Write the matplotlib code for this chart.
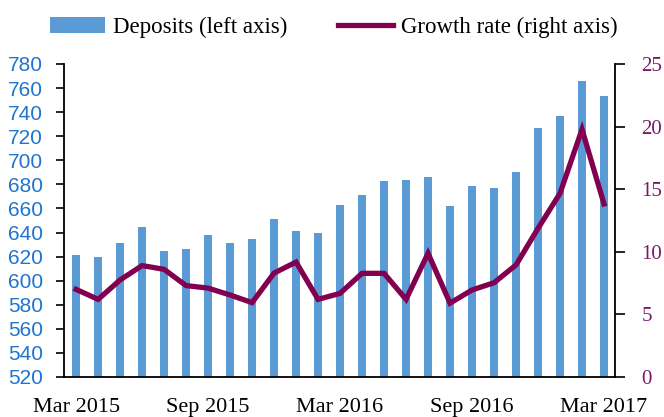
import numpy as np
import matplotlib
matplotlib.use("Agg")
import matplotlib.pyplot as plt

# monthly data, Mar 2015 .. Mar 2017
months = ["Mar 2015", "Apr 2015", "May 2015", "Jun 2015", "Jul 2015", "Aug 2015",
          "Sep 2015", "Oct 2015", "Nov 2015", "Dec 2015", "Jan 2016", "Feb 2016",
          "Mar 2016", "Apr 2016", "May 2016", "Jun 2016", "Jul 2016", "Aug 2016",
          "Sep 2016", "Oct 2016", "Nov 2016", "Dec 2016", "Jan 2017", "Feb 2017",
          "Mar 2017"]
deposits = [621.5, 620, 631.5, 644.5, 624.8, 626.5, 638, 631.5, 634.8, 651, 641.4, 639.8,
            662.5, 671, 682.4, 684, 686, 662.2, 678.8, 677.3, 690.4, 726.7, 736.7, 766.2, 753.3]
growth = [7.0, 6.2, 7.75, 8.9, 8.6, 7.3, 7.1, 6.55, 5.94, 8.3, 9.18, 6.2,
          6.68, 8.28, 8.28, 6.2, 9.88, 5.9, 6.95, 7.53, 8.95, 11.87, 14.67, 19.78, 13.82]
tick_labels = ["Mar 2015", "Sep 2015", "Mar 2016", "Sep 2016", "Mar 2017"]

bar_color = "#5B9BD5"
line_color = "#820050"
left_txt = "#1F74D0"
right_txt = "#781A68"

fig = plt.figure(figsize=(6.64, 4.17), dpi=100)
ax = fig.add_axes([64 / 664, 1 - 377 / 417, (615 - 64) / 664, (377 - 64) / 417])
x = np.arange(len(months))
bars = ax.bar(x, np.array(deposits) - 520, bottom=520, width=0.38, color=bar_color,
              label="Deposits (left axis)", zorder=2)
ax.set_ylim(520, 780)
ax.set_yticks(np.arange(520, 781, 20))
ax.set_xlim(-0.55, len(months) - 0.5)
xt = [months.index(m) for m in tick_labels]
ax.set_xticks(xt)
ax.set_xticklabels(tick_labels, fontsize=16, family="Liberation Serif")
ax.tick_params(axis="x", length=0, pad=15)
ax.tick_params(axis="y", direction="out", length=6, width=1.2, colors="black",
               labelcolor=left_txt, labelsize=15, pad=9)
for lab in ax.get_yticklabels():
    lab.set_family("Liberation Sans")
ax.spines["top"].set_visible(False)
ax.spines["right"].set_visible(False)
for s in ("left", "bottom"):
    ax.spines[s].set_linewidth(1.3)

ax2 = ax.twinx()
ln, = ax2.plot(x, growth, color=line_color, lw=3.8, solid_joinstyle="miter",
               label="Growth rate (right axis)", zorder=3)
ax2.set_ylim(0, 25)
ax2.set_yticks(np.arange(0, 26, 5))
ax2.tick_params(axis="y", direction="out", length=7, width=1.2, colors="black",
                labelcolor=right_txt, labelsize=15, pad=12)
for lab in ax2.get_yticklabels():
    lab.set_family("Liberation Serif")
ax2.spines["top"].set_visible(False)
ax2.spines["left"].set_visible(False)
ax2.spines["bottom"].set_visible(False)
ax2.spines["right"].set_linewidth(1.3)

fig.legend(handles=[bars, ln], loc="center", bbox_to_anchor=(334 / 664, 1 - 27 / 417),
           ncol=2, frameon=False, prop={"family": "Liberation Serif", "size": 16.5},
           handlelength=2.4, handletextpad=0.35, columnspacing=2.2)

fig.savefig("out.png", dpi=100)
